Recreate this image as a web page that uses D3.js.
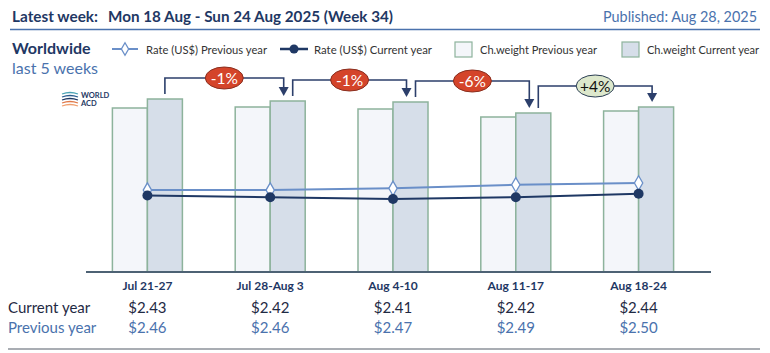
<!DOCTYPE html>
<html>
<head>
<meta charset="utf-8">
<script src="https://cdn.jsdelivr.net/npm/d3@7"></script>
<style>
  body { margin: 0; background: #fff; }
  svg { font-family: Lato, "Open Sans", sans-serif; }
</style>
</head>
<body>
<div id="chart"></div>
<script>
var width = 770, height = 353;

// data
var weeks = ["Jul 21-27", "Jul 28-Aug 3", "Aug 4-10", "Aug 11-17", "Aug 18-24"];
var weightPrev = [164, 165, 163, 155, 161];   // chargeable weight (index)
var weightCurr = [173, 171, 170, 159, 165];
var ratePrev = [2.46, 2.46, 2.47, 2.49, 2.50];
var rateCurr = [2.43, 2.42, 2.41, 2.42, 2.44];
var changeLabels = ["-1%", "-1%", "-6%", "+4%"];

var navy = "#1f3864", blue = "#4a72ad", lineBlue = "#6a8fc8";
var barStroke = "#8db39c";

var svg = d3.select("#chart").append("svg")
  .attr("width", width)
  .attr("height", height)

// header (widths squeezed to match the narrower original face)
svg.append("text").attr("x", 12).attr("y", 22)
  .attr("fill", navy).style("font-weight", "bold").style("font-size", "16px")
  .attr("textLength", 86).attr("lengthAdjust", "spacingAndGlyphs")
  .text("Latest week:")
svg.append("text").attr("x", 108).attr("y", 22)
  .attr("fill", navy).style("font-weight", "bold").style("font-size", "16px")
  .attr("textLength", 285).attr("lengthAdjust", "spacingAndGlyphs")
  .text("Mon 18 Aug - Sun 24 Aug 2025 (Week 34)")
svg.append("text").attr("x", 603).attr("y", 22)
  .attr("fill", blue).style("font-size", "15px")
  .attr("textLength", 154).attr("lengthAdjust", "spacingAndGlyphs")
  .text("Published: Aug 28, 2025")
svg.append("line").attr("x1", 10).attr("x2", 760).attr("y1", 29.5).attr("y2", 29.5)
  .attr("stroke", blue).attr("stroke-width", 1.5)

svg.append("text").attr("x", 12).attr("y", 54)
  .attr("fill", navy).style("font-weight", "bold").style("font-size", "16px")
  .text("Worldwide")
svg.append("text").attr("x", 12).attr("y", 74)
  .attr("fill", blue).style("font-size", "16px")
  .text("last 5 weeks")

// scales
var x = d3.scaleBand().domain(weeks).range([86, 700]);
var xIn = d3.scaleBand().domain(["prev", "curr"]).range([-35, 35]);
var yW = d3.scaleLinear().domain([0, 178]).range([272, 94]);
var yR = d3.scaleLinear().domain([2, 3]).range([272, 94]);
var cx = function(d) { return x(d) + x.bandwidth() / 2; };

// bars
var groups = svg.append("g").selectAll("g")
  .data(weeks)
  .enter().append("g")
    .attr("transform", function(d) { return "translate(" + cx(d) + ",0)"; })

groups.append("rect")
  .attr("x", xIn("prev"))
  .attr("y", function(d, i) { return yW(weightPrev[i]); })
  .attr("width", xIn.bandwidth())
  .attr("height", function(d, i) { return yW(0) - yW(weightPrev[i]); })
  .attr("fill", "#f4f6fa").attr("stroke", barStroke).attr("stroke-width", 1.5)

groups.append("rect")
  .attr("x", xIn("curr"))
  .attr("y", function(d, i) { return yW(weightCurr[i]); })
  .attr("width", xIn.bandwidth())
  .attr("height", function(d, i) { return yW(0) - yW(weightCurr[i]); })
  .attr("fill", "#d6dee9").attr("stroke", barStroke).attr("stroke-width", 1.5)

// x axis
var xAxis = svg.append("g")
  .attr("transform", "translate(0,272)")
  .call(d3.axisBottom(x).tickSize(0).tickPadding(9))
xAxis.select(".domain").remove()
xAxis.selectAll("text")
  .attr("fill", navy).style("font-weight", "bold").style("font-size", "12px")
  .style("font-family", "Lato, sans-serif")
svg.append("line").attr("x1", 86).attr("x2", 711).attr("y1", 272).attr("y2", 272)
  .attr("stroke", "#4d6274").attr("stroke-width", 2)

// rate lines
var line = function(vals) {
  return d3.line()
    .x(function(d) { return cx(d); })
    .y(function(d, i) { return yR(vals[i]); })(weeks);
};
svg.append("path").attr("d", line(ratePrev))
  .attr("fill", "none").attr("stroke", lineBlue).attr("stroke-width", 2)
svg.append("path").attr("d", line(rateCurr))
  .attr("fill", "none").attr("stroke", navy).attr("stroke-width", 2)

svg.append("g").selectAll("path")
  .data(weeks)
  .enter().append("path")
    .attr("d", d3.symbol(d3.symbolDiamond, 60))
    .attr("transform", function(d, i) { return "translate(" + cx(d) + "," + yR(ratePrev[i]) + ")"; })
    .attr("fill", "#fff").attr("stroke", lineBlue).attr("stroke-width", 1.3)

svg.append("g").selectAll("circle")
  .data(weeks)
  .enter().append("circle")
    .attr("cx", function(d) { return cx(d); })
    .attr("cy", function(d, i) { return yR(rateCurr[i]); })
    .attr("r", 5)
    .attr("fill", navy)

// week-on-week change brackets
var arrowCol = "#2c3f6b";
changeLabels.forEach(function(lab, i) {
  var cA = cx(weeks[i]) + xIn("curr") + xIn.bandwidth() / 2;
  var cB = cx(weeks[i + 1]) + xIn("curr") + xIn.bandwidth() / 2;
  var x1 = cA + (i == 0 ? 0 : 5), x2 = cB - 4;
  var yStart = yW(weightCurr[i]) - 5;
  var yTip = yW(weightCurr[i + 1]) - 5;
  var yTop = Math.min(yStart, yTip) - 16;
  svg.append("path")
    .attr("d", "M" + x1 + "," + yStart + "V" + yTop + "H" + x2 + "V" + (yTip - 7))
    .attr("fill", "none").attr("stroke", arrowCol).attr("stroke-width", 1.6)
  svg.append("path")
    .attr("d", "M" + (x2 - 5) + "," + (yTip - 9) + "L" + (x2 + 5) + "," + (yTip - 9) + "L" + x2 + "," + yTip + "Z")
    .attr("fill", arrowCol)
  var up = lab.charAt(0) == "+";
  svg.append("ellipse")
    .attr("cx", (x1 + x2) / 2).attr("cy", yTop)
    .attr("rx", 19).attr("ry", 11)
    .attr("fill", up ? "#dde8cc" : "#d4442a")
    .attr("stroke", up ? "#2c3f55" : "#8a2e1e").attr("stroke-width", 1)
  svg.append("text")
    .attr("x", (x1 + x2) / 2).attr("y", yTop + 5.5)
    .attr("text-anchor", "middle")
    .attr("fill", up ? "#111" : "#fff").style("font-size", "15.5px")
    .text(lab)
})

// legend
var lg = svg.append("g").attr("transform", "translate(0,49)")
lg.append("line").attr("x1", 112).attr("x2", 138).attr("stroke", lineBlue).attr("stroke-width", 2)
lg.append("path").attr("d", d3.symbol(d3.symbolDiamond, 45)).attr("transform", "translate(125,0)")
  .attr("fill", "#fff").attr("stroke", lineBlue).attr("stroke-width", 1.3)
lg.append("line").attr("x1", 280).attr("x2", 308).attr("stroke", navy).attr("stroke-width", 2.5)
lg.append("circle").attr("cx", 294).attr("r", 4.5).attr("fill", navy)
lg.append("rect").attr("x", 455).attr("y", -7).attr("width", 17).attr("height", 15)
  .attr("fill", "#f4f6fa").attr("stroke", barStroke).attr("stroke-width", 1.2)
lg.append("rect").attr("x", 622).attr("y", -7).attr("width", 17).attr("height", 15)
  .attr("fill", "#d6dee9").attr("stroke", barStroke).attr("stroke-width", 1.2)
var legTexts = [[146, "Rate (US$) Previous year", 121], [314, "Rate (US$) Current year", 118],
                [480, "Ch.weight Previous year", 117], [647, "Ch.weight Current year", 112]];
lg.selectAll("text.leg").data(legTexts).enter().append("text")
  .attr("x", function(d) { return d[0]; }).attr("y", 4.5)
  .attr("fill", "#333").style("font-size", "12px")
  .attr("textLength", function(d) { return d[2]; }).attr("lengthAdjust", "spacingAndGlyphs")
  .text(function(d) { return d[1]; })

// logo
var logo = svg.append("g").attr("transform", "translate(62,92)")
var swirlCols = ["#4ba3b5", "#2c5d8f", "#1f3864", "#e07a4a", "#f0a070"];
swirlCols.forEach(function(c, i) {
  logo.append("path")
    .attr("d", "M0," + (2 + i * 3) + " Q8," + (-1 + i * 3) + " 16," + (2 + i * 3))
    .attr("fill", "none").attr("stroke", c).attr("stroke-width", 1.3)
})
logo.append("text").attr("x", 19).attr("y", 6).attr("fill", navy)
  .style("font-size", "7.5px").style("font-weight", "bold").text("WORLD")
logo.append("text").attr("x", 19).attr("y", 14).attr("fill", navy)
  .style("font-size", "7.5px").style("font-weight", "bold").text("ACD")

// rate table
svg.append("text").attr("x", 8).attr("y", 313).attr("fill", "#1f2a44")
  .style("font-size", "15px").text("Current year")
svg.append("text").attr("x", 8).attr("y", 333).attr("fill", blue)
  .style("font-size", "15px").text("Previous year")
svg.append("g").selectAll("text")
  .data(weeks)
  .enter().append("text")
    .attr("x", function(d) { return cx(d); }).attr("y", 313)
    .attr("text-anchor", "middle").attr("fill", "#1f2a44").style("font-size", "15px")
    .text(function(d, i) { return "$" + rateCurr[i].toFixed(2); })
svg.append("g").selectAll("text")
  .data(weeks)
  .enter().append("text")
    .attr("x", function(d) { return cx(d); }).attr("y", 333)
    .attr("text-anchor", "middle").attr("fill", blue).style("font-size", "15px")
    .text(function(d, i) { return "$" + ratePrev[i].toFixed(2); })

svg.append("line").attr("x1", 8).attr("x2", 760).attr("y1", 349).attr("y2", 349)
  .attr("stroke", "#a9adb3").attr("stroke-width", 2)
</script>
</body>
</html>
